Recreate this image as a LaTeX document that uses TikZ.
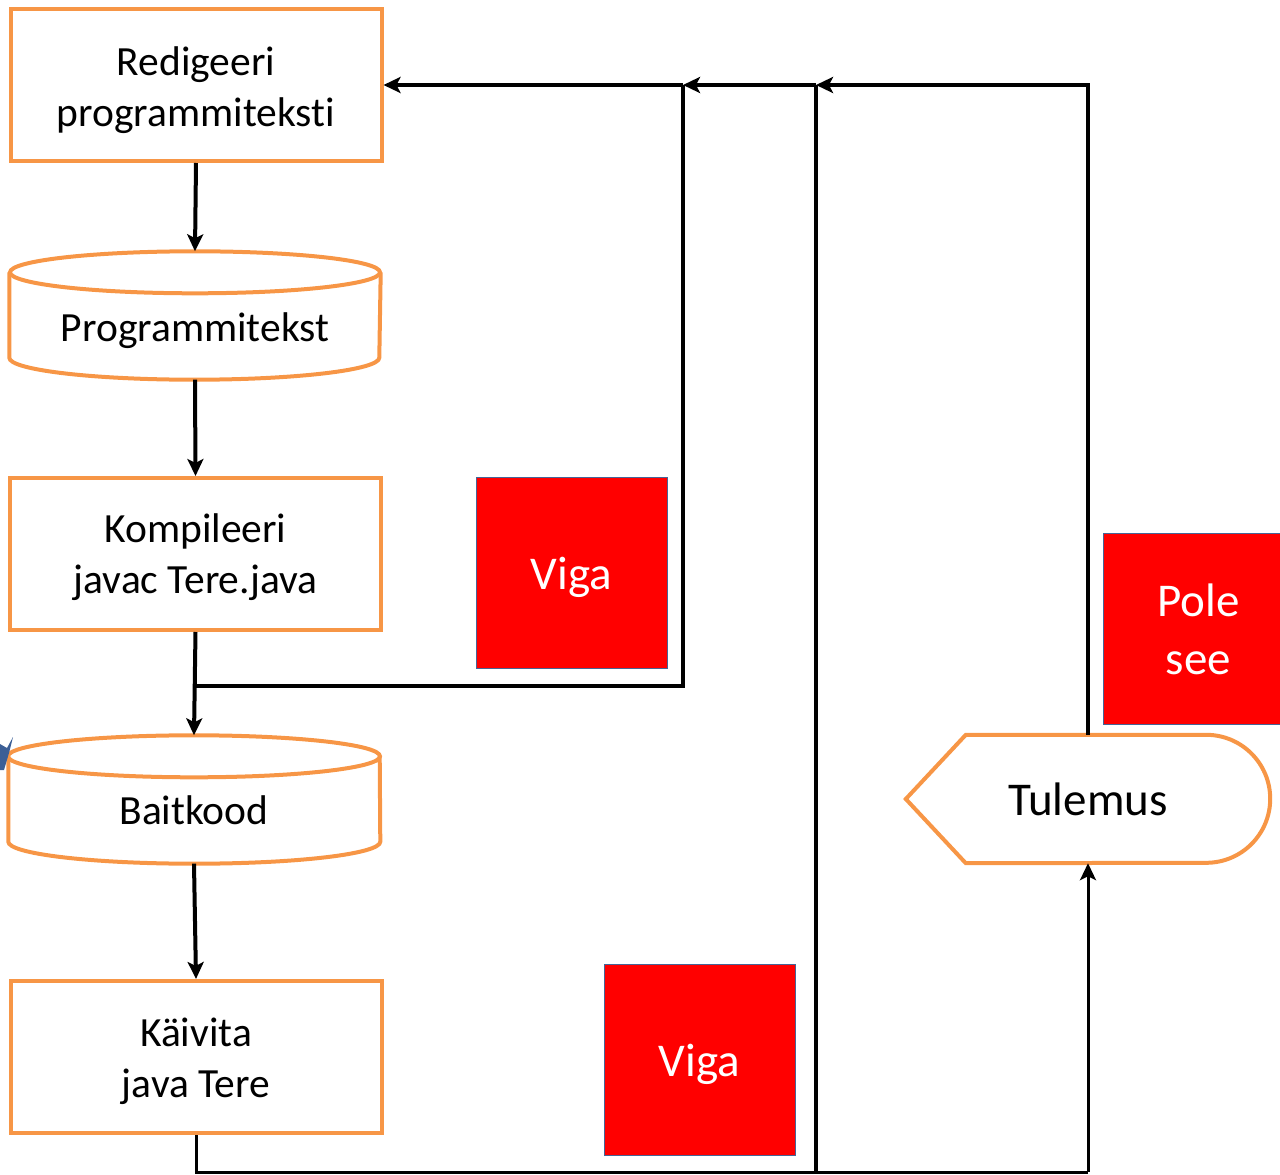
\documentclass[tikz,border=0pt]{standalone}
\usepackage{fontspec}
\setmainfont{Carlito}[Ligatures=NoCommon]
\usetikzlibrary{arrows.meta}
\definecolor{boxorange}{RGB}{247,150,70}
\definecolor{errred}{RGB}{255,0,0}
\definecolor{errborder}{RGB}{70,100,150}
\definecolor{starblue}{RGB}{60,95,150}
\newcommand{\txtdown}[2]{\raisebox{-#1pt}[\height][\depth]{#2}}
\tikzset{
  stepbox/.style={draw=boxorange,line width=4pt,fill=white,minimum width=371pt,minimum height=152pt,
    inner sep=0pt,align=center,font=\fontsize{41.5}{51}\selectfont},
  storebox/.style={minimum width=371pt,minimum height=107pt,inner sep=0pt,font=\fontsize{41.5}{51}\selectfont},
  storeline/.style={draw=boxorange,line width=4pt},
  errbox/.style={fill=errred,draw=errborder,line width=0.8pt,minimum width=191pt,minimum height=191pt,
    inner sep=0pt,align=center,text=white,font=\fontsize{47}{58}\selectfont},
  flow/.style={line width=4pt},
  flowthin/.style={line width=3pt},
  arr/.style={flow,-{Stealth[length=17pt,width=16pt,inset=4pt]}}
}
\begin{document}
\begin{tikzpicture}[x=1pt,y=1pt]
\useasboundingbox (0,0) rectangle (1280,-1175);
\clip (0,0) rectangle (1280,-1175);

\node[stepbox] (redig) at (196,-85) {\txtdown{5}{Redigeeri}\\\txtdown{5}{programmiteksti}};
\node[storebox] (prog) at (195,-326) {\txtdown{5}{Programmitekst}};
\draw[storeline] (prog.north) ellipse [x radius=185, y radius=21];
\draw[storeline] (prog.north west) -- ([yshift=22pt]prog.south west) arc[start angle=180,end angle=360,x radius=185,y radius=22] -- (prog.north east);
\node[stepbox] (komp) at (195.5,-554) {\txtdown{3}{Kompileeri}\\\txtdown{3}{javac Tere.java}};
\node[storebox] (bait) at (194,-810) {Baitkood};
\draw[storeline] (bait.north) ellipse [x radius=186, y radius=21];
\draw[storeline] (bait.north west) -- ([yshift=22pt]bait.south west) arc[start angle=180,end angle=360,x radius=186,y radius=22] -- (bait.north east);
\node[stepbox] (kaiv) at (196,-1057) {\txtdown{4}{Käivita}\\\txtdown{4}{java Tere}};

\node[errbox] (viga1) at (571.5,-572.5) {\txtdown{5}{Viga}};
\node[errbox] (viga2) at (699.5,-1059.5) {\txtdown{5}{Viga}};
\node[errbox] (pole) at (1198.5,-629) {Pole\\see};

\node[minimum width=364pt,minimum height=128pt,inner sep=0pt,font=\fontsize{47}{58}\selectfont] (tul) at (1088,-799) {Tulemus};
\draw[storeline] (tul.west) -- ([xshift=60pt]tul.north west) -- ([xshift=-64pt]tul.north east)
  arc[start angle=90,end angle=-90,radius=64] -- ([xshift=60pt]tul.south west) -- cycle;

\fill[starblue] (0,-744) -- (7,-748) -- (13,-737) -- (9,-753) -- (4,-770) -- (0,-770) -- cycle;

\coordinate (jn) at (komp.south |- 0,-686);
\coordinate (up) at (683,-686);
\coordinate (top1) at (up |- redig.east);
\coordinate (top2) at (816,-85);
\coordinate (top3) at (tul.north |- top2);
\coordinate (low) at (kaiv.south |- 0,-1172);
\coordinate (mid) at (816,-1172);
\coordinate (right) at (tul.south |- low);

\draw[arr] (redig.south) -- ([yshift=21pt]prog.north);
\draw[arr] (prog.south) -- (komp.north);
\draw[arr] (komp.south) -- ([yshift=21pt]bait.north);
\draw[arr] (bait.south) -- (kaiv.north);
\draw[flow] (jn) -- (up) -- (top1);
\draw[arr] (top1) -- (redig.east);
\draw[arr] (top2) -- (top1);
\draw[arr] (tul.north) -- (top3) -- (top2);
\draw[flowthin] (kaiv.south) -- (low) -- (right);
\draw[line width=3.5pt] (mid) -- (top2);
\draw[arr,line width=3pt] (right) -- (tul.south);

\end{tikzpicture}
\end{document}
